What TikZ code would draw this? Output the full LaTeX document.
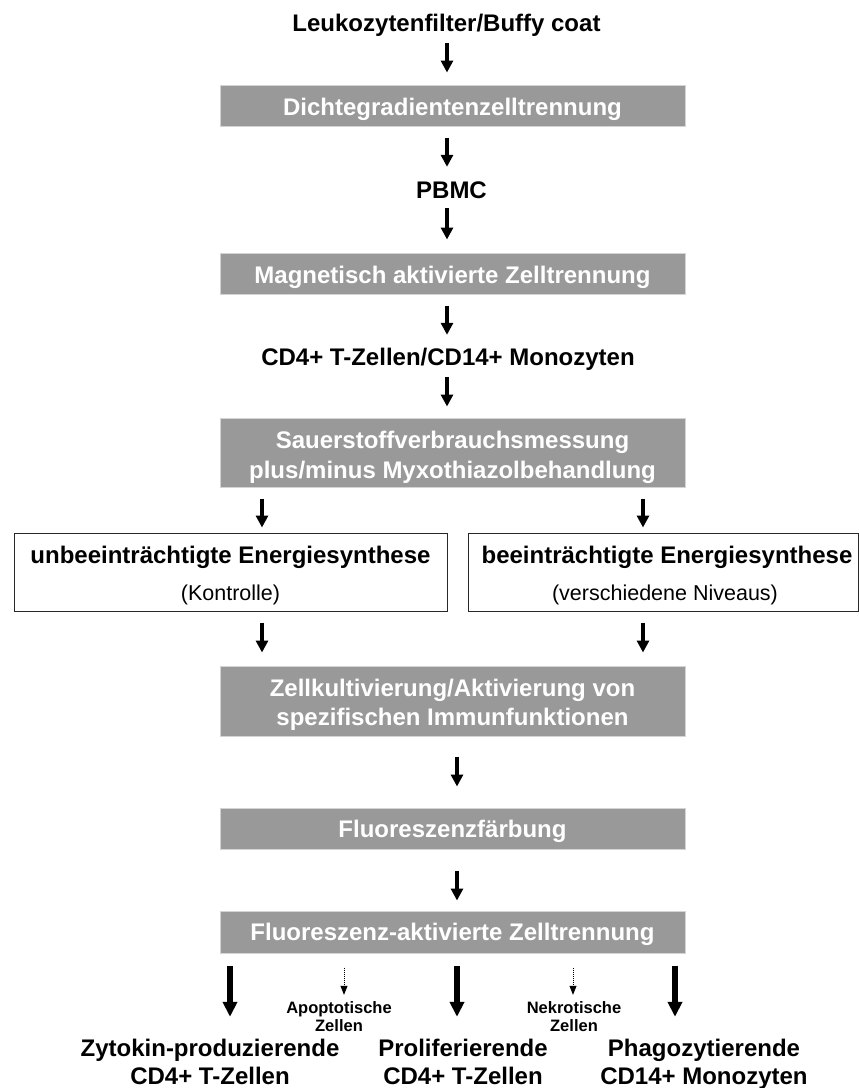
\documentclass[tikz,border=0pt]{standalone}
\usepackage{fontspec}
\setmainfont{Liberation Sans}
\usetikzlibrary{arrows.meta}
\definecolor{boxgray}{RGB}{153,153,153}
\definecolor{boxedge}{RGB}{212,212,212}
\definecolor{wedge}{RGB}{40,40,40}
\tikzset{
  btxt/.style={font=\bfseries\fontsize{24}{28}\selectfont, text height=17pt, text depth=0pt, inner sep=0pt},
  wtxt/.style={btxt, text=white},
  rtxt/.style={font=\fontsize{21.5}{25}\selectfont, text height=15pt, text depth=0pt, inner sep=0pt},
  stxt/.style={font=\bfseries\fontsize{16.5}{19}\selectfont, text height=12pt, text depth=0pt, inner sep=0pt},
  graybox/.style={fill=boxgray, draw=boxedge, line width=1pt, minimum width=465pt, inner sep=0pt},
  whitebox/.style={fill=white, draw=wedge, line width=1pt, minimum height=78pt, inner sep=0pt},
  arr/.style={line width=3.8pt, -{Triangle[width=12pt,length=12pt]}},
  bigarr/.style={line width=5.2pt, -{Triangle[width=14pt,length=15pt]}},
  dotarr/.style={line width=0.8pt, dash pattern=on 1pt off 1pt, -{Triangle[width=7pt,length=9pt]}},
}
\begin{document}
\begin{tikzpicture}[x=1pt,y=-1pt]
\useasboundingbox (0,0) rectangle (859,1088);
\fill[white] (0,0) rectangle (859,1088);
% column coordinates
\coordinate (cM) at (447,0);
\coordinate (cL) at (262,0);
\coordinate (cR) at (643,0);
\coordinate (cN) at (457,0);
\coordinate (c1) at (230,0);
\coordinate (c3) at (675,0);
\coordinate (d1) at (344,0);
\coordinate (d2) at (573,0);
% nodes
\node[btxt] (t0) at (446.5,23) {Leukozytenfilter/Buffy coat};
\node[graybox, minimum height=41pt] (b1) at (452.5,105.5) {};
\node[wtxt] (b1t) at (452.5,107) {Dichtegradientenzelltrennung};
\node[btxt] (pbmc) at (451.5,190) {PBMC};
\node[graybox, minimum height=41pt] (b2) at (452.5,273.5) {};
\node[wtxt] (b2t) at (452.5,275) {Magnetisch aktivierte Zelltrennung};
\node[btxt] (cd) at (448,357) {CD4+ T-Zellen/CD14+ Monozyten};
\node[graybox, minimum height=69pt] (b3) at (452.5,452.5) {};
\node[wtxt] (b3a) at (452.5,440) {Sauerstoffverbrauchsmessung};
\node[wtxt] (b3b) at (452.5,470) {plus/minus Myxothiazolbehandlung};
\node[whitebox, minimum width=433pt] (w1) at (230.5,572) {};
\node[btxt] (w1a) at (230.5,555) {unbeeinträchtigte Energiesynthese};
\node[rtxt] (w1b) at (230.5,593) {(Kontrolle)};
\node[whitebox, minimum width=390pt] (w2) at (663,572) {};
\node[btxt] (w2a) at (667,555) {beeinträchtigte Energiesynthese};
\node[rtxt] (w2b) at (665,593) {(verschiedene Niveaus)};
\node[graybox, minimum height=70pt] (b4) at (452.5,701) {};
\node[wtxt] (b4a) at (452.5,688) {Zellkultivierung/Aktivierung von};
\node[wtxt] (b4b) at (452.5,717) {spezifischen Immunfunktionen};
\node[graybox, minimum height=41pt] (b5) at (452.5,828.5) {};
\node[wtxt] (b5t) at (452.5,829) {Fluoreszenzfärbung};
\node[graybox, minimum height=42pt] (b6) at (452.5,932) {};
\node[wtxt] (b6t) at (452.5,932) {Fluoreszenz-aktivierte Zelltrennung};
\node[stxt] (ap1) at (339,1007) {Apoptotische};
\node[stxt] (ap2) at (339,1025) {Zellen};
\node[stxt] (ne1) at (574,1007) {Nekrotische};
\node[stxt] (ne2) at (574,1025) {Zellen};
\node[btxt] (o1a) at (210,1048) {Zytokin-produzierende};
\node[btxt] (o1b) at (210,1076) {CD4+ T-Zellen};
\node[btxt] (o2a) at (463,1048) {Proliferierende};
\node[btxt] (o2b) at (463,1076) {CD4+ T-Zellen};
\node[btxt] (o3a) at (704,1048) {Phagozytierende};
\node[btxt] (o3b) at (704,1076) {CD14+ Monozyten};
% connectors
\draw[arr, shorten <=11.5pt, shorten >=12pt] (t0.south -| cM) -- (b1.north -| cM);
\draw[arr, shorten <=11pt, shorten >=14.5pt] (b1.south -| cM) -- (pbmc.north -| cM);
\draw[arr, shorten <=9.5pt, shorten >=13pt] (pbmc.south -| cM) -- (b2.north -| cM);
\draw[arr, shorten <=11pt, shorten >=13.5pt] (b2.south -| cM) -- (cd.north -| cM);
\draw[arr, shorten <=11.5pt, shorten >=11pt] (cd.south -| cM) -- (b3.north -| cM);
\draw[arr, shorten <=11pt, shorten >=5pt] (b3.south -| cL) -- (w1.north -| cL);
\draw[arr, shorten <=11pt, shorten >=5pt] (b3.south -| cR) -- (w2.north -| cR);
\draw[arr, shorten <=11pt, shorten >=13pt] (w1.south -| cL) -- (b4.north -| cL);
\draw[arr, shorten <=11pt, shorten >=13pt] (w2.south -| cR) -- (b4.north -| cR);
\draw[arr, shorten <=20pt, shorten >=21pt] (b4.south -| cN) -- (b5.north -| cN);
\draw[arr, shorten <=21pt, shorten >=10pt] (b5.south -| cN) -- (b6.north -| cN);
\draw[bigarr, shorten <=12pt, shorten >=22.5pt] (b6.south -| c1) -- (o1a.north -| c1);
\draw[bigarr, shorten <=12pt, shorten >=22.5pt] (b6.south -| cN) -- (o2a.north -| cN);
\draw[bigarr, shorten <=12pt, shorten >=22.5pt] (b6.south -| c3) -- (o3a.north -| c3);
\draw[dotarr, shorten <=14pt, shorten >=6pt] (b6.south -| d1) -- (ap1.north -| d1);
\draw[dotarr, shorten <=14pt, shorten >=6pt] (b6.south -| d2) -- (ne1.north -| d2);
\end{tikzpicture}
\end{document}
